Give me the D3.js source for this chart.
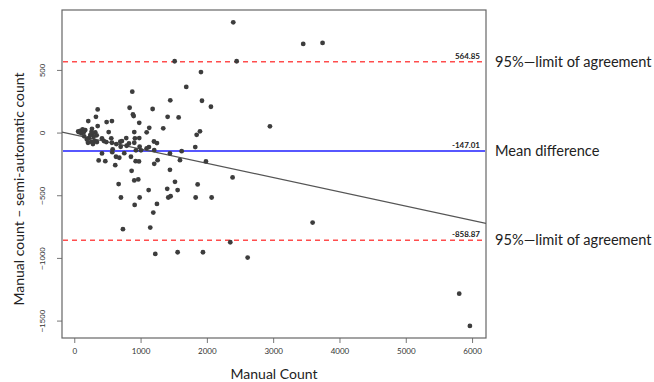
<!DOCTYPE html>
<html>
<head>
<meta charset="utf-8">
<script src="https://cdn.jsdelivr.net/npm/d3@7"></script>
<style>
  body { margin: 0; background: #fff; }
  svg { display: block; }
</style>
</head>
<body>
<div id="chart"></div>
<script>
// manual count vs (manual - semi-automatic) difference
const manual = [3453, 3745, 2951, 3595, 2615, 5806, 5967, 2398, 2449, 1514, 1911, 1689, 875, 1448, 1926, 2061, 835, 1182, 353, 885,
  896, 327, 1408, 1574, 211, 488, 568, 980, 353, 1342, 1131, 267, 519, 905, 1092, 1896, 1846,
  126, 90, 66, 166, 142, 105, 317, 277, 338, 292, 241, 207, 256, 307, 342, 282, 418, 448, 483, 558, 568, 634, 694, 579, 418, 368, 468, 629, 618,
  60, 150, 220, 260, 190,
  784, 915, 980, 719, 825, 905, 1202, 1247, 1126, 573, 679, 754, 930, 1006, 926, 976, 865, 905, 965, 669, 1443, 1620, 1594, 1206, 1257, 1443,
  1825, 1986, 2388, 1519, 1402, 1559, 1861, 1122, 704, 986, 1418, 1453, 1831, 2072, 790, 855, 1206, 911, 1247, 1192, 734, 1146, 1222, 1559,
  2353, 1941, 700, 986, 1092];
const diff = [707, 715, 50, -718, -997, -1285, -1543, 880, 569, 569, 483, 364, 326, 257, 254, 206, 198, 188, 185, 145,
  132, 126, 126, 121, 92, 84, 92, 78, 52, 34, 38, 30, 4, 4, 2, 10, -18,
  26, 14, 4, 20, 2, -6, 2, -10, -22, -34, -20, -81, -73, -68, -76, -92, -46, -68, -76, -46, -81, -92, -73, -134, -166, -222, -228, -193, -260,
  10, -30, -45, 5, -55,
  -44, -46, -44, -68, -87, -81, -71, -84, -116, -156, -201, -164, -142, -142, -228, -230, -305, -382, -374, -411, -166, -148, -220, -140, -220, -297,
  -116, -230, -358, -393, -449, -459, -414, -459, -518, -518, -518, -508, -518, -518, -105, -193, -249, -577, -569, -638, -771, -758, -968, -955,
  -875, -955, -113, -113, -126];

const xTicks = [0, 1000, 2000, 3000, 4000, 5000, 6000];
const yTicks = [500, 0, -500, -1000, -1500];

const meanDiff = -147.01;
const upperLoA = 564.85;
const lowerLoA = -858.87;
const fitIntercept = -17;
const fitSlope = -0.114;

const refLines = [
  { value: upperLoA, label: '564.85', side: '95%\u2014limit of agreement', type: 'loa' },
  { value: meanDiff, label: '-147.01', side: 'Mean difference', type: 'mean' },
  { value: lowerLoA, label: '-858.87', side: '95%\u2014limit of agreement', type: 'loa' }
];

let width = 654, height = 382;
let plot = { left: 62, right: 486, top: 10, bottom: 338 };

let svg = d3.select('#chart')
  .append('svg')
  .attr('width', width)
  .attr('height', height)
  .style('font-family', 'Lato, "Open Sans", sans-serif');

let x = d3.scaleLinear().domain([-185, 6210]).range([plot.left, plot.right]);
let y = d3.scaleLinear().domain([-1639, 978]).range([plot.bottom, plot.top]);

// axes
let xAxis = d3.axisBottom(x).tickValues(xTicks).tickSize(5).tickPadding(5).tickFormat(d3.format('d'));
let gx = svg.append('g')
  .attr('transform', `translate(0, ${plot.bottom})`)
  .call(xAxis);
gx.select('.domain').remove();
gx.selectAll('line').attr('stroke', '#777');
gx.selectAll('text').attr('font-size', 8).attr('fill', '#333').attr('font-family', 'Lato, sans-serif');

let yAxis = d3.axisLeft(y).tickValues(yTicks).tickSize(5).tickFormat(d3.format('d'));
let gy = svg.append('g')
  .attr('transform', `translate(${plot.left}, 0)`)
  .call(yAxis);
gy.select('.domain').remove();
gy.selectAll('line').attr('stroke', '#777');
gy.selectAll('text')
  .attr('font-size', 8).attr('fill', '#333')
  .attr('x', 0).attr('dy', 0)
  .attr('text-anchor', 'middle')
  .attr('transform', 'translate(-17, 0) rotate(-90)');

// plot box
svg.append('rect')
  .attr('x', plot.left).attr('y', plot.top)
  .attr('width', plot.right - plot.left).attr('height', plot.bottom - plot.top)
  .attr('fill', 'none').attr('stroke', '#666').attr('stroke-width', 1.2);

let clip = svg.append('clipPath').attr('id', 'clip')
  .append('rect')
  .attr('x', plot.left).attr('y', plot.top)
  .attr('width', plot.right - plot.left).attr('height', plot.bottom - plot.top);

// reference lines
svg.selectAll('.ref')
  .data(refLines)
  .enter()
  .append('line')
  .attr('class', 'ref')
  .attr('x1', plot.left + 1)
  .attr('x2', plot.right - 1)
  .attr('y1', d => y(d.value))
  .attr('y2', d => y(d.value))
  .attr('stroke', d => d.type === 'mean' ? '#1f1fff' : '#ff4d4d')
  .attr('stroke-width', 1.4)
  .attr('stroke-dasharray', d => d.type === 'mean' ? null : '5,4');

svg.selectAll('.refval')
  .data(refLines)
  .enter()
  .append('text')
  .attr('x', plot.right - 6)
  .attr('y', d => y(d.value) - 3)
  .attr('text-anchor', 'end')
  .attr('font-size', 8)
  .attr('font-weight', 'bold')
  .attr('fill', '#222')
  .text(d => d.label);

svg.selectAll('.side')
  .data(refLines)
  .enter()
  .append('text')
  .attr('x', 495)
  .attr('y', d => y(d.value) + 5)
  .attr('font-size', 14.6)
  .attr('fill', '#222')
  .text(d => d.side);

// regression line
let xd = x.domain();
svg.append('line')
  .attr('clip-path', 'url(#clip)')
  .attr('x1', x(xd[0])).attr('y1', y(fitIntercept + fitSlope * xd[0]))
  .attr('x2', x(xd[1])).attr('y2', y(fitIntercept + fitSlope * xd[1]))
  .attr('stroke', '#555')
  .attr('stroke-width', 1.2);

// points
svg.selectAll('circle')
  .data(manual)
  .enter()
  .append('circle')
  .attr('cx', d => x(d))
  .attr('cy', (d, i) => y(diff[i]))
  .attr('r', 2.4)
  .attr('fill', '#3d3d3d');

// axis titles
svg.append('text')
  .attr('x', (plot.left + plot.right) / 2)
  .attr('y', 379)
  .attr('text-anchor', 'middle')
  .attr('font-size', 14)
  .attr('fill', '#222')
  .text('Manual Count');

svg.append('text')
  .attr('transform', 'translate(24, 189) rotate(-90)')
  .attr('text-anchor', 'middle')
  .attr('font-size', 14)
  .attr('fill', '#222')
  .text('Manual count \u2013 semi-automatic count');
</script>
</body>
</html>
